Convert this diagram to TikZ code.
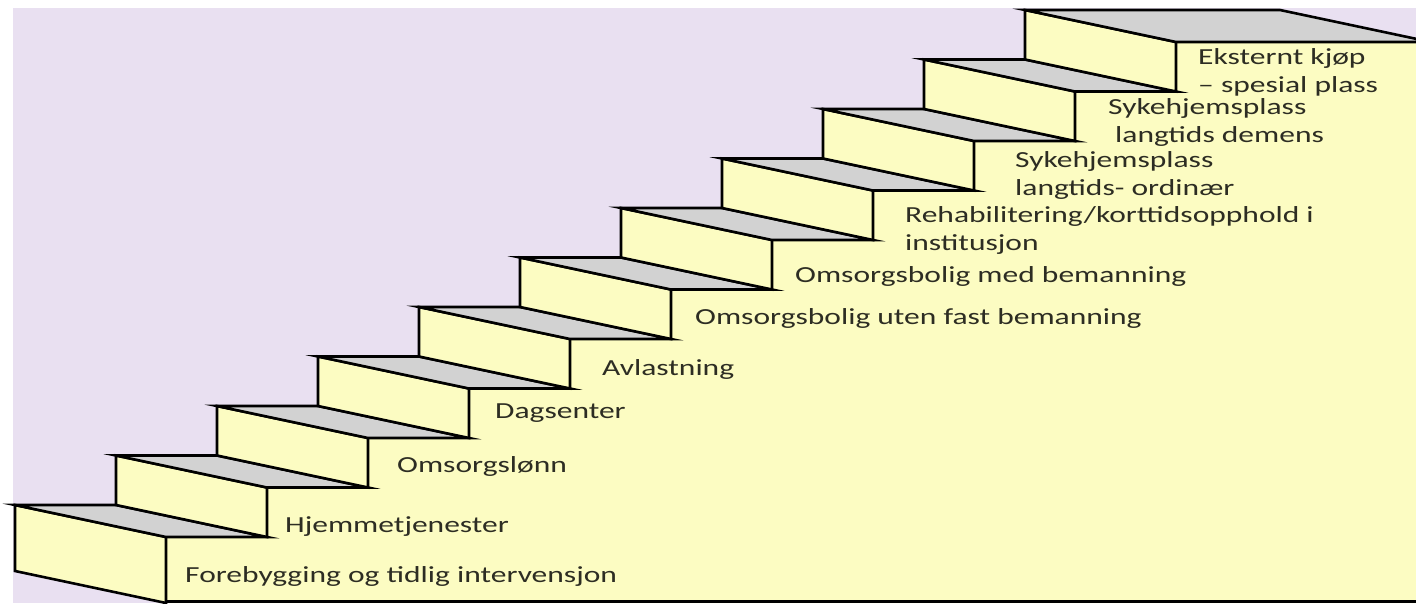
\documentclass[tikz,border=0pt]{standalone}
\usepackage{fontspec}
\newfontfamily\labfont[FakeStretch=1.37]{Carlito}
\definecolor{lav}{RGB}{233,224,241}
\definecolor{stepyel}{RGB}{252,252,194}
\definecolor{treadgray}{RGB}{210,210,210}
\definecolor{labcol}{RGB}{45,45,35}
\tikzset{
  edge/.style={draw=black, line width=2.6pt, line join=miter},
  riser/.style={edge, fill=stepyel},
  tread/.style={edge, fill=treadgray},
  lab/.style={anchor=base west, inner sep=0pt, text=labcol,
    font=\labfont\fontsize{23}{27.5}\selectfont, align=left},
}
\begin{document}
\begin{tikzpicture}[x=1pt,y=-1pt]
\useasboundingbox (0,0) rectangle (1416,603);
\fill[white] (0,0) rectangle (1416,603);
\fill[lav] (13,8) rectangle (1416,603);
\begin{scope}
\clip (0,0) rectangle (1416,603);
% large side face of the staircase
\fill[stepyel] (166,603)
  \foreach \k in {1,...,10} { -- ({166+101*(\k-1)},{537-49.5*(\k-1)}) -- ({166+101*\k},{537-49.5*(\k-1)}) }
  -- (1176,42) -- (1430,42) -- (1430,603) -- cycle;
% steps
\foreach \k in {1,...,11} {
  \pgfmathsetmacro{\px}{15+101*(\k-1)}
  \pgfmathsetmacro{\py}{505-49.5*(\k-1)}
  \pgfmathsetmacro{\rh}{ifthenelse(\k==1,66,49.5)}
  \pgfmathsetmacro{\tw}{ifthenelse(\k==11,255,101)}
  \coordinate (p\k) at (\px,\py);
  \draw[riser] (p\k) -- ++(151,32) -- ++(0,\rh) -- ++(-151,-32) -- cycle;
  \draw[tread] (p\k) -- ++(\tw,0) -- ++(151,32) -- ++(-\tw,0) -- cycle;
}
\draw[edge] (166,601.5) -- (1430,601.5);
\end{scope}
% labels (multi-line nodes: base = baseline of last line)
\node[lab] (l1) at (185,582) {Forebygging og tidlig intervensjon};
\node[lab] (l2) at (285,532) {Hjemmetjenester};
\node[lab] (l3) at (397,472) {Omsorgslønn};
\node[lab] (l4) at (495,418) {Dagsenter};
\node[lab] (l5) at (602,375) {Avlastning};
\node[lab] (l6) at (695,324) {Omsorgsbolig uten fast bemanning};
\node[lab] (l7) at (795,282) {Omsorgsbolig med bemanning};
\node[lab, font=\labfont\fontsize{23}{28}\selectfont] (l8) at (905,250) {Rehabilitering/korttidsopphold i\\institusjon};
\node[lab] (l9) at (1015,195) {Sykehjemsplass\\langtids- ordinær};
\node[lab] (l10) at (1108,142) {Sykehjemsplass\\\hspace*{7pt}langtids demens};
\node[lab] (l11) at (1198,92) {Eksternt kjøp\\– spesial plass};
\end{tikzpicture}
\end{document}
